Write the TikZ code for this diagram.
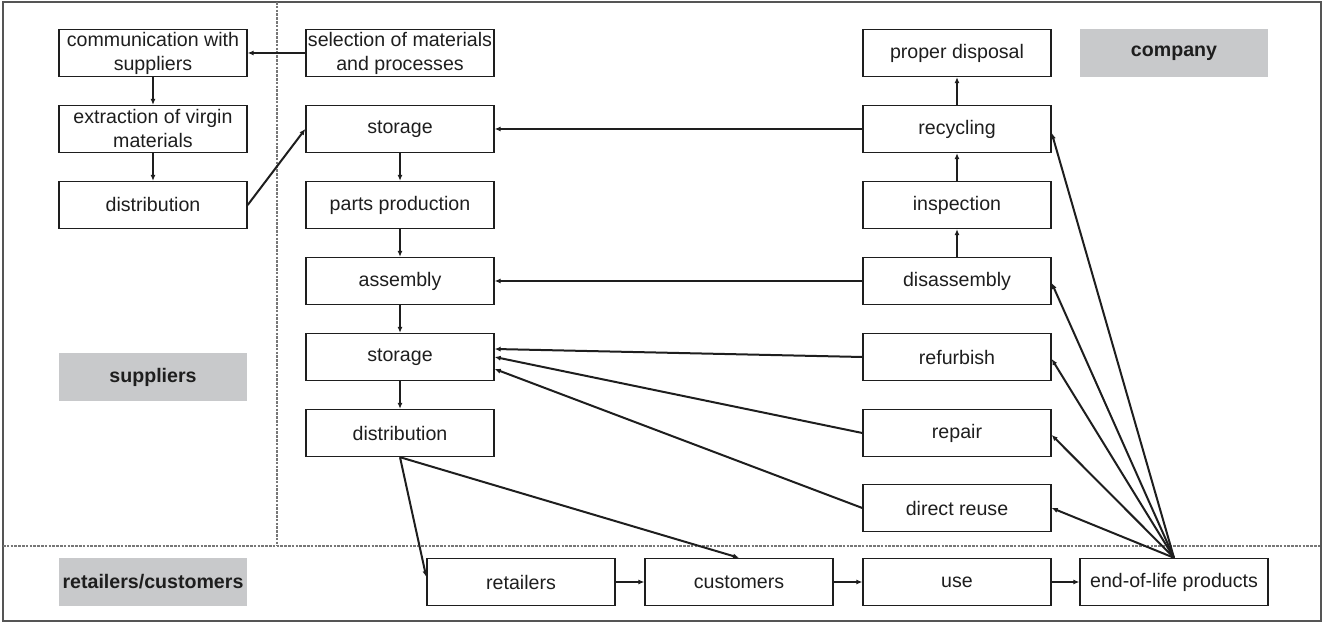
\documentclass[tikz,border=0pt]{standalone}
\usepackage{fontspec}
\setmainfont{Liberation Sans}
\usetikzlibrary{arrows.meta}
\definecolor{lblgray}{HTML}{C8C9CB}
\definecolor{framegray}{HTML}{555555}
\definecolor{txt}{HTML}{1E1E1E}
\tikzset{
  box/.style={draw=txt, line width=0.7pt, minimum width=94pt, minimum height=23.5pt, inner sep=0pt, align=center, text=txt, font=\fontsize{9.8}{12}\selectfont},
  lbl/.style={fill=lblgray, minimum width=94pt, minimum height=24pt, inner sep=0pt, text=txt, font=\fontsize{9.8}{12}\selectfont\bfseries},
  arr/.style={draw=txt, line width=1pt, -{Latex[length=3pt,width=2.6pt]}},
  sep/.style={draw=framegray!80, line width=0.9pt, dash pattern=on 1.3pt off 0.6pt}
}
\begin{document}
\begin{tikzpicture}[x=0.5pt, y=-0.5pt]
\useasboundingbox (0,0) rectangle (1324,624);
% frame and separators
\draw[framegray, line width=1pt] (3,2) rectangle (1321,621);
\coordinate (vtop) at (277,2);
\coordinate (vbot) at (277,546);
\coordinate (hl) at (3,546);
\coordinate (hr) at (1321,546);
\draw[sep] (vtop) -- (vbot);
\draw[sep] (hl) -- (hr);

% left column (suppliers)
\node[box] (comm) at (153,53) {communication with\\suppliers};
\node[box] (extr) at (153,129) {extraction of virgin\\materials};
\node[box] (dist1) at (153,205) {distribution};
\node[lbl] (supl) at (153,377) {suppliers};

% middle column
\node[box] (sel) at (400,53) {selection of materials\\and processes};
\node[box] (stor1) at (400,129) {storage};
\node[box] (parts) at (400,205) {parts production};
\node[box] (asm) at (400,281) {assembly};
\node[box] (stor2) at (400,357) {storage};
\node[box] (dist2) at (400,433) {distribution};

% right column
\node[box] (disp) at (957,53) {proper disposal};
\node[box] (recyc) at (957,129) {recycling};
\node[box] (insp) at (957,205) {inspection};
\node[box] (disas) at (957,281) {disassembly};
\node[box] (refurb) at (957,357) {refurbish};
\node[box] (repair) at (957,433) {repair};
\node[box] (reuse) at (957,508) {direct reuse};
\node[lbl] (comp) at (1174,53) {company};

% bottom row
\node[lbl] (rc) at (153,582) {retailers/customers};
\node[box] (ret) at (521,582) {retailers};
\node[box] (cust) at (739,582) {customers};
\node[box] (use) at (957,582) {use};
\node[box] (eol) at (1174,582) {end-of-life products};

% supplier flows
\draw[arr] (sel.west) -- (comm.east);
\draw[arr] (comm.south) -- (extr.north);
\draw[arr] (extr.south) -- (dist1.north);
\draw[arr] (dist1.east) -- (stor1.west);

% production chain
\draw[arr] (stor1.south) -- (parts.north);
\draw[arr] (parts.south) -- (asm.north);
\draw[arr] (asm.south) -- (stor2.north);
\draw[arr] (stor2.south) -- (dist2.north);

% recovery chain
\draw[arr] (disas.north) -- (insp.south);
\draw[arr] (insp.north) -- (recyc.south);
\draw[arr] (recyc.north) -- (disp.south);

% returns to production
\draw[arr] (recyc.west) -- (stor1.east);
\draw[arr] (disas.west) -- (asm.east);
\draw[arr] (refurb.west) -- ([yshift=4pt]stor2.east);
\draw[arr] (repair.west) -- (stor2.east);
\draw[arr] (reuse.west) -- ([yshift=-6pt]stor2.east);

% distribution to market
\draw[arr] (dist2.south) -- ([yshift=2.5pt]ret.west);
\draw[arr] (dist2.south) -- (cust.north);
\draw[arr] (ret.east) -- (cust.west);
\draw[arr] (cust.east) -- (use.west);
\draw[arr] (use.east) -- (eol.west);

% end-of-life returns
\draw[arr] (eol.north) -- ([yshift=-2pt]recyc.east);
\draw[arr] (eol.north) -- ([yshift=-1pt]disas.east);
\draw[arr] (eol.north) -- ([yshift=-1pt]refurb.east);
\draw[arr] (eol.north) -- ([yshift=-1pt]repair.east);
\draw[arr] (eol.north) -- (reuse.east);
\end{tikzpicture}
\end{document}
